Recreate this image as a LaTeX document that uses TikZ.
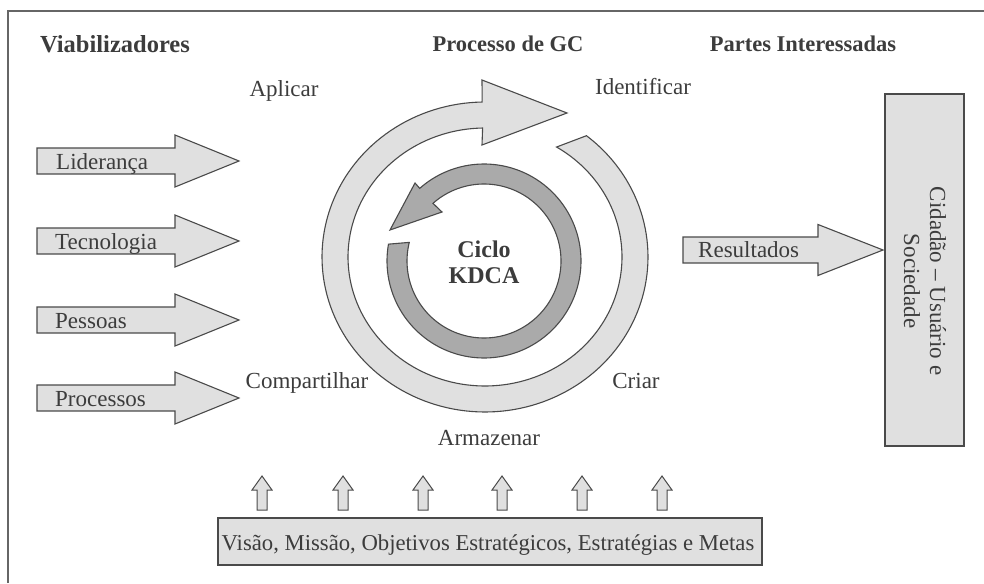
\documentclass[tikz,border=0pt]{standalone}
\usepackage{fontspec}
\setmainfont{Liberation Serif}
\definecolor{linec}{HTML}{4A4A4A}
\definecolor{lightg}{HTML}{E0E0E0}
\definecolor{darkg}{HTML}{AAAAAA}
\definecolor{txtc}{HTML}{3C3C3C}
\definecolor{framec}{HTML}{666666}
\newcommand\hfatarrow[6]{% x0 xbase xtip yc halfshaft halfhead
  \draw[lightfill] (#1,#4-#5) -- (#2,#4-#5) -- (#2,#4-#6) -- (#3,#4) -- (#2,#4+#6) -- (#2,#4+#5) -- (#1,#4+#5) -- cycle;}
\newcommand\upfat[1]{%
  \draw[lightfill, line width=1pt] (#1-5,510) -- (#1-5,490) -- (#1-10,490) -- (#1,476) -- (#1+10,490) -- (#1+5,490) -- (#1+5,510) -- cycle;}
\begin{document}
\begin{tikzpicture}[x=1pt,y=-1pt,
  outl/.style={draw=linec, line width=1.1pt, line join=miter},
  lightfill/.style={outl, fill=lightg},
  darkfill/.style={outl, fill=darkg},
  lbl/.style={text=txtc, font=\fontsize{23}{26}\selectfont, inner sep=0pt},
  ttl/.style={text=txtc, font=\fontsize{22.5}{26}\selectfont\bfseries, inner sep=0pt}]
\useasboundingbox (0,0) rectangle (984,583);
% frame
\draw[framec, line width=1.5pt] (8,583) -- (8,11) -- (984,11);
% titles
\node[ttl, font=\fontsize{24.5}{26}\selectfont\bfseries, anchor=base] (tviab) at (115,53) {Viabilizadores};
\node[ttl, anchor=base] (tproc) at (508,52) {Processo de GC};
\node[ttl, anchor=base] (tpart) at (803,52) {Partes Interessadas};
% outer cycle arrow
\draw[lightfill] plot[domain=-51.5:269, samples=150] ({485+163*cos(\x)},{257+155*sin(\x)})
  -- (482,80) -- (567,113) -- (482,145)
  -- plot[domain=269:-58.5, samples=150] ({485+137*cos(\x)},{257+129*sin(\x)}) -- cycle;
% inner KDCA arrow
\draw[darkfill] plot[domain=-170:-491.5, samples=150] ({484+97*cos(\x)},{261+97*sin(\x)})
  -- (415,183) -- (390,230) -- (442,212)
  -- plot[domain=-491.5:-166, samples=150] ({484+77*cos(\x)},{261+77*sin(\x)}) -- cycle;
\node[ttl, font=\fontsize{24}{26}\selectfont\bfseries, anchor=base] (ciclo) at (484,257) {Ciclo};
\node[ttl, font=\fontsize{24}{26}\selectfont\bfseries, anchor=base] (kdca) at (484,283) {KDCA};
% process labels
\node[lbl, anchor=base] (aplicar) at (284,96) {Aplicar};
\node[lbl, anchor=base] (ident) at (643,95) {Identificar};
\node[lbl, anchor=base] (compart) at (307,388) {Compartilhar};
\node[lbl, anchor=base] (criar) at (636,388) {Criar};
\node[lbl, anchor=base] (armaz) at (489,445) {Armazenar};
% enablers
\hfatarrow{37}{175}{239}{161}{13}{26}
\hfatarrow{37}{175}{239}{241}{13}{26}
\hfatarrow{37}{175}{239}{320}{13}{26}
\hfatarrow{37}{175}{239}{398}{13}{26}
\node[lbl, anchor=base west] (lid) at (56,169) {Liderança};
\node[lbl, anchor=base west] (tec) at (55,249) {Tecnologia};
\node[lbl, anchor=base west] (pes) at (55,328) {Pessoas};
\node[lbl, anchor=base west] (pro) at (55,406) {Processos};
% results
\hfatarrow{683}{818}{883}{250}{13}{25.5}
\node[lbl, anchor=base west] (res) at (698,257) {Resultados};
\node[lightfill, minimum width=79, minimum height=352, inner sep=0pt] (cid) at (924.5,270) {};
\node[lbl, rotate=-90, align=center] (cidtxt) at (925,281) {Cidadão – Usuário e\\Sociedade};
% bottom
\foreach \xx in {262,343,423,502,582,662} {\upfat{\xx}}
\node[lightfill, minimum width=544, minimum height=47, inner sep=0pt] (vis) at (490,541.5) {};
\node[lbl, font=\fontsize{22.7}{26}\selectfont, anchor=base] (vistxt) at (488,550) {Visão, Missão, Objetivos Estratégicos, Estratégias e Metas};
\end{tikzpicture}
\end{document}
